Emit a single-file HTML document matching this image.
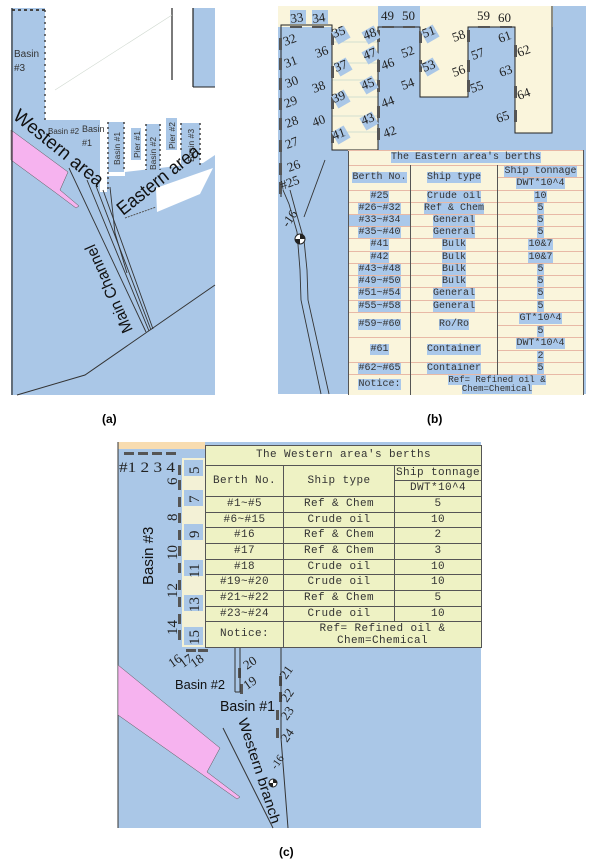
<!DOCTYPE html>
<html><head><meta charset="utf-8">
<style>
body{margin:0;background:#fff;width:600px;height:866px;position:relative;overflow:hidden;font-family:"Liberation Sans",sans-serif}
svg{position:absolute;left:0;top:0}
.tb{position:absolute;border-collapse:collapse;font-family:"Liberation Mono",monospace;table-layout:fixed}
.tb td{padding:0;text-align:center;line-height:1;white-space:nowrap;overflow:hidden}
#tbE{left:348px;top:150px;width:235px;font-size:10px;background:#faf5dc;color:#333}
#tbE td{border-top:1px solid #e8b9a6;border-left:1px solid #555;border-right:1px solid #555}
#tbE span{background:#aac8ea}
#tbW{left:205px;top:445px;width:276px;font-size:11px;background:#eef2c4;color:#333;letter-spacing:.4px}
#tbW td{border:1px solid #555}
.lab{position:absolute;font:bold 12px "Liberation Sans",sans-serif}
</style></head><body>
<svg width="600" height="866" viewBox="0 0 600 866" font-family="Liberation Sans, sans-serif">
<rect x="11" y="8" width="204" height="387" fill="#aac7e7"/>
<polygon points="45,8 193,8 193,87 215,87 215,155 203,163 125,172 125,176 107,176 107,192 100,192 100,120 45,120" fill="#fff"/>
<rect x="108" y="122" width="16" height="50" fill="#aac7e7"/>
<rect x="131" y="128" width="10" height="32" fill="#aac7e7"/>
<rect x="146" y="124" width="14" height="46" fill="#aac7e7"/>
<rect x="166" y="118" width="11" height="32" fill="#aac7e7"/>
<rect x="181" y="123" width="19" height="42" fill="#aac7e7"/>
<polygon points="156,188 213,168 200,194 157,212" fill="#fff"/>
<line x1="125" y1="218" x2="156" y2="207" stroke="#555" stroke-width="1" stroke-dasharray="2,1"/>
<line x1="172" y1="8" x2="172" y2="80" stroke="#222" stroke-width="1.2"/>
<line x1="193" y1="8" x2="193" y2="87" stroke="#222" stroke-width="1.2"/>
<line x1="193" y1="87" x2="215" y2="87" stroke="#222" stroke-width="1"/>
<line x1="55" y1="90" x2="172" y2="15" stroke="#cfd8cf" stroke-width=".6"/>
<line x1="45" y1="10" x2="45" y2="120" stroke="#444" stroke-width="1.5" stroke-dasharray="2,4"/>
<line x1="12" y1="10" x2="45" y2="10" stroke="#444" stroke-width="2" stroke-dasharray="3,3"/>
<line x1="108" y1="122" x2="108" y2="192" stroke="#444" stroke-width="1.5" stroke-dasharray="2,3"/>
<line x1="124" y1="122" x2="124" y2="172" stroke="#444" stroke-width="1.5" stroke-dasharray="2,3"/>
<line x1="146" y1="124" x2="146" y2="170" stroke="#444" stroke-width="1.5" stroke-dasharray="2,3"/>
<line x1="160" y1="124" x2="160" y2="170" stroke="#444" stroke-width="1.5" stroke-dasharray="2,3"/>
<line x1="200" y1="123" x2="200" y2="165" stroke="#444" stroke-width="1.5" stroke-dasharray="2,3"/>
<line x1="181" y1="123" x2="181" y2="150" stroke="#444" stroke-width="1.5" stroke-dasharray="2,3"/>
<polygon points="11,130 68,172 60,190 79,206 76,208 56,193 11,160" fill="#f6b3ef" stroke="#555" stroke-width=".5"/>
<g stroke="#333" stroke-width=".9" fill="none">
<line x1="69" y1="168" x2="146" y2="332"/>
<line x1="87" y1="180" x2="149" y2="331"/>
<line x1="96" y1="186" x2="151" y2="330"/>
<line x1="103" y1="190" x2="153" y2="329"/>
<polyline points="110,187 115,233 127,273"/>
</g>
<polyline points="17,395 85,375 215,285" fill="none" stroke="#333" stroke-width="1"/>
<line x1="12" y1="8" x2="12" y2="395" stroke="#333" stroke-width="1.2"/>
<text x="14" y="57" font-size="10" fill="#333">Basin</text>
<text x="14" y="71" font-size="10" fill="#333">#3</text>
<text x="48" y="134" font-size="8" fill="#333">Basin #2</text>
<text x="82" y="132" font-size="9" fill="#333">Basin</text>
<text x="82" y="146" font-size="9" fill="#333">#1</text>
<text transform="translate(120,165) rotate(-90)" font-size="8.5" fill="#333">Basin #1</text>
<text transform="translate(140,158) rotate(-90)" font-size="8.5" fill="#333">Pier #1</text>
<text transform="translate(156,170) rotate(-90)" font-size="8.5" fill="#333">Basin #2</text>
<text transform="translate(175,149) rotate(-90)" font-size="8.5" fill="#333">Pier #2</text>
<text transform="translate(194,162) rotate(-90)" font-size="8.5" fill="#333">Basin #3</text>
<text transform="translate(12,118) rotate(39)" font-size="19" fill="#111" textLength="110" lengthAdjust="spacingAndGlyphs">Western area</text>
<text transform="translate(123,216) rotate(-38.5)" font-size="19" fill="#111" textLength="100" lengthAdjust="spacingAndGlyphs">Eastern area</text>
<text transform="translate(133,330) rotate(-114)" font-size="16" fill="#111" textLength="95" lengthAdjust="spacingAndGlyphs">Main Channel</text>

<rect x="278" y="6" width="308" height="388" fill="#aac7e7"/>
<rect x="278" y="6" width="275" height="21" fill="#faf5dc"/>
<rect x="378" y="6" width="42" height="21" fill="#aac7e7"/>
<rect x="332" y="27" width="46" height="123" fill="#faf5dc"/>
<rect x="420" y="27" width="48" height="70" fill="#faf5dc"/>
<rect x="515" y="27" width="37" height="106" fill="#faf5dc"/>
<g stroke="#c5d6cc" stroke-width=".8">
<line x1="332" y1="42" x2="378" y2="42"/><line x1="332" y1="63" x2="378" y2="63"/><line x1="332" y1="80" x2="378" y2="80"/><line x1="332" y1="97" x2="378" y2="97"/><line x1="332" y1="116" x2="378" y2="116"/><line x1="332" y1="132" x2="378" y2="132"/>
</g>
<g stroke="#222" stroke-width="1" fill="none">
<polyline points="281,197 281,25 332,25 332,150 378,150 378,27 420,27 420,97 468,97 468,27 515,27 515,133 552,133 552,6"/>
</g>
<g fill="#555">
<rect x="279" y="38" width="3" height="12"/><rect x="279" y="58" width="3" height="12"/><rect x="279" y="78" width="3" height="12"/><rect x="279" y="98" width="3" height="12"/><rect x="279" y="118" width="3" height="12"/><rect x="279" y="140" width="3" height="12"/><rect x="279" y="163" width="3" height="12"/><rect x="279" y="182" width="3" height="12"/>
<rect x="331" y="33" width="3" height="12"/><rect x="331" y="66" width="3" height="12"/><rect x="331" y="97" width="3" height="12"/><rect x="331" y="131" width="3" height="12"/>
<rect x="377" y="30" width="3" height="12"/><rect x="377" y="60" width="3" height="12"/><rect x="377" y="80" width="3" height="12"/><rect x="377" y="106" width="3" height="12"/><rect x="377" y="128" width="3" height="12"/>
<rect x="419" y="31" width="3" height="12"/><rect x="419" y="60" width="3" height="12"/><rect x="467" y="30" width="3" height="12"/><rect x="467" y="60" width="3" height="12"/><rect x="467" y="80" width="3" height="12"/>
<rect x="514" y="45" width="3" height="12"/><rect x="514" y="86" width="3" height="12"/><rect x="514" y="110" width="3" height="12"/>
<rect x="290" y="26" width="12" height="2"/><rect x="312" y="26" width="12" height="2"/><rect x="382" y="26" width="12" height="2"/><rect x="403" y="26" width="12" height="2"/><rect x="478" y="26" width="12" height="2"/><rect x="500" y="26" width="12" height="2"/>
</g>
<g fill="#aac7e7">
<rect x="290" y="10" width="16" height="14"/><rect x="312" y="10" width="16" height="14"/>
<rect x="334" y="28" width="14" height="14" transform="rotate(-30 341 35)"/><rect x="336" y="60" width="14" height="14" transform="rotate(-30 343 67)"/><rect x="334" y="92" width="14" height="14" transform="rotate(-30 341 99)"/><rect x="334" y="128" width="14" height="14" transform="rotate(-30 341 135)"/>
<rect x="364" y="28" width="14" height="14" transform="rotate(-30 371 35)"/><rect x="364" y="48" width="14" height="14" transform="rotate(-30 371 55)"/><rect x="362" y="78" width="14" height="14" transform="rotate(-30 369 85)"/><rect x="362" y="114" width="14" height="14" transform="rotate(-30 369 121)"/>
<rect x="423" y="27" width="14" height="14" transform="rotate(-30 430 34)"/><rect x="423" y="60" width="14" height="14" transform="rotate(-30 430 67)"/>
</g>
<g font-family="Liberation Serif, serif" font-size="13" fill="#222">
<text transform="translate(291,23) rotate(-8)">33</text><text transform="translate(313,23) rotate(-8)">34</text>
<text transform="translate(381,20)">49</text><text transform="translate(402,20)">50</text>
<text transform="translate(477,20)">59</text><text transform="translate(498,22)">60</text>
<text transform="translate(285,46) rotate(-20)">32</text><text transform="translate(286,68) rotate(-20)">31</text><text transform="translate(287,88) rotate(-20)">30</text><text transform="translate(286,108) rotate(-20)">29</text><text transform="translate(287,128) rotate(-20)">28</text><text transform="translate(287,149) rotate(-20)">27</text><text transform="translate(289,172) rotate(-20)">26</text><text transform="translate(282,190) rotate(-20)">#25</text>
<text transform="translate(317,58) rotate(-20)">36</text><text transform="translate(334,38) rotate(-20)">35</text><text transform="translate(336,72) rotate(-20)">37</text><text transform="translate(314,93) rotate(-20)">38</text><text transform="translate(334,103) rotate(-20)">39</text><text transform="translate(314,127) rotate(-20)">40</text><text transform="translate(334,140) rotate(-20)">41</text>
<text transform="translate(365,40) rotate(-20)">48</text><text transform="translate(365,60) rotate(-20)">47</text><text transform="translate(383,70) rotate(-20)">46</text><text transform="translate(363,90) rotate(-20)">45</text><text transform="translate(383,108) rotate(-20)">44</text><text transform="translate(363,125) rotate(-20)">43</text><text transform="translate(385,138) rotate(-20)">42</text>
<text transform="translate(424,38) rotate(-20)">51</text><text transform="translate(403,58) rotate(-20)">52</text><text transform="translate(424,72) rotate(-20)">53</text><text transform="translate(403,90) rotate(-20)">54</text>
<text transform="translate(454,42) rotate(-20)">58</text><text transform="translate(473,60) rotate(-20)">57</text><text transform="translate(454,77) rotate(-20)">56</text><text transform="translate(472,93) rotate(-20)">55</text>
<text transform="translate(500,43) rotate(-20)">61</text><text transform="translate(519,57) rotate(-20)">62</text><text transform="translate(501,77) rotate(-20)">63</text><text transform="translate(519,100) rotate(-20)">64</text><text transform="translate(498,123) rotate(-20)">65</text>
<text transform="translate(288,228) rotate(-55)">-16</text>
</g>
<g stroke="#333" stroke-width=".9" fill="none">
<line x1="325" y1="160" x2="304" y2="217"/>
<polyline points="283,190 289,204 297,232 300,270 301,300 321,394"/>
<polyline points="290,190 296,212 304,240 307,270 308,300 329,394"/>
</g>
<circle cx="300" cy="239" r="5" fill="#fff" stroke="#222"/>
<path d="M300,239 L300,234 A5,5 0 0 1 305,239 Z M300,239 L300,244 A5,5 0 0 1 295,239 Z" fill="#222"/>

<rect x="118" y="442" width="363" height="386" fill="#aac7e7"/>
<rect x="118" y="442" width="87" height="7" fill="#f8dcb0"/>
<rect x="182" y="458" width="23" height="189" fill="#f3f1d6"/>
<g fill="#aac7e7">
<rect x="184" y="460" width="19" height="16"/><rect x="184" y="490" width="19" height="16"/><rect x="184" y="524" width="19" height="16"/><rect x="184" y="560" width="19" height="16"/><rect x="184" y="595" width="19" height="16"/><rect x="184" y="627" width="19" height="18"/>
</g>
<g fill="#555">
<rect x="178" y="465" width="3" height="10"/><rect x="178" y="480" width="3" height="10"/><rect x="178" y="497" width="3" height="10"/><rect x="178" y="513" width="3" height="10"/><rect x="178" y="530" width="3" height="10"/><rect x="178" y="546" width="3" height="10"/><rect x="178" y="563" width="3" height="10"/><rect x="178" y="580" width="3" height="10"/><rect x="178" y="597" width="3" height="10"/><rect x="178" y="614" width="3" height="10"/><rect x="178" y="630" width="3" height="10"/>
<rect x="124" y="452" width="10" height="3"/><rect x="138" y="452" width="10" height="3"/><rect x="152" y="452" width="10" height="3"/><rect x="166" y="452" width="10" height="3"/>
<rect x="186" y="649" width="10" height="3"/><rect x="198" y="649" width="10" height="3"/>
<rect x="238" y="668" width="3" height="10"/><rect x="240" y="684" width="3" height="10"/><rect x="279" y="676" width="3" height="10"/><rect x="279" y="692" width="3" height="10"/><rect x="276" y="710" width="3" height="10"/><rect x="276" y="728" width="3" height="10"/>
</g>
<g stroke="#333" stroke-width="1" fill="none">
<line x1="235" y1="648" x2="235" y2="692"/><line x1="240" y1="648" x2="240" y2="692"/><line x1="235" y1="692" x2="240" y2="692"/>
<polyline points="281,648 281,738 288,828"/>
<line x1="223" y1="728" x2="273" y2="828"/>
<line x1="118" y1="442" x2="118" y2="828"/>
</g>
<polygon points="118,665 220,748 207,772 240,797 237,799 203,775 118,715" fill="#f6b3ef" stroke="#555" stroke-width=".5"/>
<g font-family="Liberation Serif, serif" font-size="15" fill="#222">
<text x="119" y="472" textLength="56" lengthAdjust="spacingAndGlyphs">#1 2 3 4</text>
<text transform="translate(177,485) rotate(-90)">6</text><text transform="translate(177,521) rotate(-90)">8</text><text transform="translate(177,560) rotate(-90)">10</text><text transform="translate(177,598) rotate(-90)">12</text><text transform="translate(177,635) rotate(-90)">14</text>
<text transform="translate(199,474) rotate(-90)">5</text><text transform="translate(199,503) rotate(-90)">7</text><text transform="translate(199,538) rotate(-90)">9</text><text transform="translate(199,578) rotate(-90)">11</text><text transform="translate(199,612) rotate(-90)">13</text><text transform="translate(199,645) rotate(-90)">15</text>
<text transform="translate(172,668) rotate(-35)" font-size="13">16</text><text transform="translate(183,668) rotate(-35)" font-size="13">17</text><text transform="translate(194,668) rotate(-35)" font-size="13">18</text>
<text transform="translate(247,670) rotate(-35)" font-size="13">20</text><text transform="translate(247,690) rotate(-35)" font-size="13">19</text>
<text transform="translate(286,680) rotate(-55)" font-size="13">21</text><text transform="translate(287,703) rotate(-55)" font-size="13">22</text><text transform="translate(287,721) rotate(-55)" font-size="13">23</text><text transform="translate(287,743) rotate(-55)" font-size="13">24</text>
<text transform="translate(276,770) rotate(-55)" font-size="11">-16</text>
</g>
<circle cx="273" cy="783" r="4" fill="#fff" stroke="#222"/>
<path d="M273,783 L273,779 A4,4 0 0 1 277,783 Z M273,783 L273,787 A4,4 0 0 1 269,783 Z" fill="#222"/>
<text transform="translate(153,585) rotate(-90)" font-size="15" fill="#111">Basin #3</text>
<text x="175" y="689" font-size="13" fill="#111" textLength="50" lengthAdjust="spacingAndGlyphs">Basin #2</text>
<text x="220" y="711" font-size="15" fill="#111" textLength="55" lengthAdjust="spacingAndGlyphs">Basin #1</text>
<text transform="translate(238,720) rotate(72)" font-size="14" fill="#111" textLength="110" lengthAdjust="spacingAndGlyphs">Western branch</text>
</svg>

<table class="tb" id="tbE">
<colgroup><col style="width:62px"><col style="width:87px"><col style="width:86px"></colgroup>
<tr style="height:15px"><td colspan="3"><span>The Eastern area's berths</span></td></tr>
<tr style="height:12px"><td rowspan="2"><span>Berth No.</span></td><td rowspan="2"><span>Ship type</span></td><td><span>Ship tonnage</span></td></tr>
<tr style="height:13px"><td><span>DWT*10^4</span></td></tr>
<tr style="height:12px"><td><span>#25</span></td><td><span>Crude oil</span></td><td><span>10</span></td></tr>
<tr style="height:12px"><td><span>#26~#32</span></td><td><span>Ref &amp; Chem</span></td><td><span>5</span></td></tr>
<tr style="height:12px"><td style="background:#aac8ea"><span>#33~#34</span></td><td><span>General</span></td><td><span>5</span></td></tr>
<tr style="height:12px"><td><span>#35~#40</span></td><td><span>General</span></td><td><span>5</span></td></tr>
<tr style="height:13px"><td><span>#41</span></td><td><span>Bulk</span></td><td><span>10&amp;7</span></td></tr>
<tr style="height:12px"><td><span>#42</span></td><td><span>Bulk</span></td><td><span>10&amp;7</span></td></tr>
<tr style="height:12px"><td><span>#43~#48</span></td><td><span>Bulk</span></td><td><span>5</span></td></tr>
<tr style="height:12px"><td><span>#49~#50</span></td><td><span>Bulk</span></td><td><span>5</span></td></tr>
<tr style="height:13px"><td><span>#51~#54</span></td><td><span>General</span></td><td><span>5</span></td></tr>
<tr style="height:12px"><td><span>#55~#58</span></td><td><span>General</span></td><td><span>5</span></td></tr>
<tr style="height:13px"><td rowspan="2"><span>#59~#60</span></td><td rowspan="2"><span>Ro/Ro</span></td><td><span>GT*10^4</span></td></tr>
<tr style="height:12px"><td><span>5</span></td></tr>
<tr style="height:13px"><td rowspan="2"><span>#61</span></td><td rowspan="2"><span>Container</span></td><td><span>DWT*10^4</span></td></tr>
<tr style="height:12px"><td><span>2</span></td></tr>
<tr style="height:12px"><td><span>#62~#65</span></td><td><span>Container</span></td><td><span>5</span></td></tr>
<tr style="height:20px"><td><span>Notice:</span></td><td colspan="2" style="line-height:9px;font-size:9px"><span>Ref= Refined oil &amp;</span><br><span>Chem=Chemical</span></td></tr>
</table>

<table class="tb" id="tbW">
<colgroup><col style="width:78px"><col style="width:111px"><col style="width:87px"></colgroup>
<tr style="height:20px"><td colspan="3">The Western area's berths</td></tr>
<tr style="height:15px"><td rowspan="2">Berth No.</td><td rowspan="2">Ship type</td><td>Ship tonnage</td></tr>
<tr style="height:16px"><td>DWT*10^4</td></tr>
<tr style="height:16px"><td>#1~#5</td><td>Ref &amp; Chem</td><td>5</td></tr>
<tr style="height:15px"><td>#6~#15</td><td>Crude oil</td><td>10</td></tr>
<tr style="height:16px"><td>#16</td><td>Ref &amp; Chem</td><td>2</td></tr>
<tr style="height:16px"><td>#17</td><td>Ref &amp; Chem</td><td>3</td></tr>
<tr style="height:15px"><td>#18</td><td>Crude oil</td><td>10</td></tr>
<tr style="height:16px"><td>#19~#20</td><td>Crude oil</td><td>10</td></tr>
<tr style="height:16px"><td>#21~#22</td><td>Ref &amp; Chem</td><td>5</td></tr>
<tr style="height:15px"><td>#23~#24</td><td>Crude oil</td><td>10</td></tr>
<tr style="height:26px"><td>Notice:</td><td colspan="2" style="line-height:12px">Ref= Refined oil &amp;<br>Chem=Chemical</td></tr>
</table>

<div class="lab" style="left:102px;top:412px">(a)</div>
<div class="lab" style="left:427px;top:412px">(b)</div>
<div class="lab" style="left:279px;top:845px">(c)</div>
</body></html>
